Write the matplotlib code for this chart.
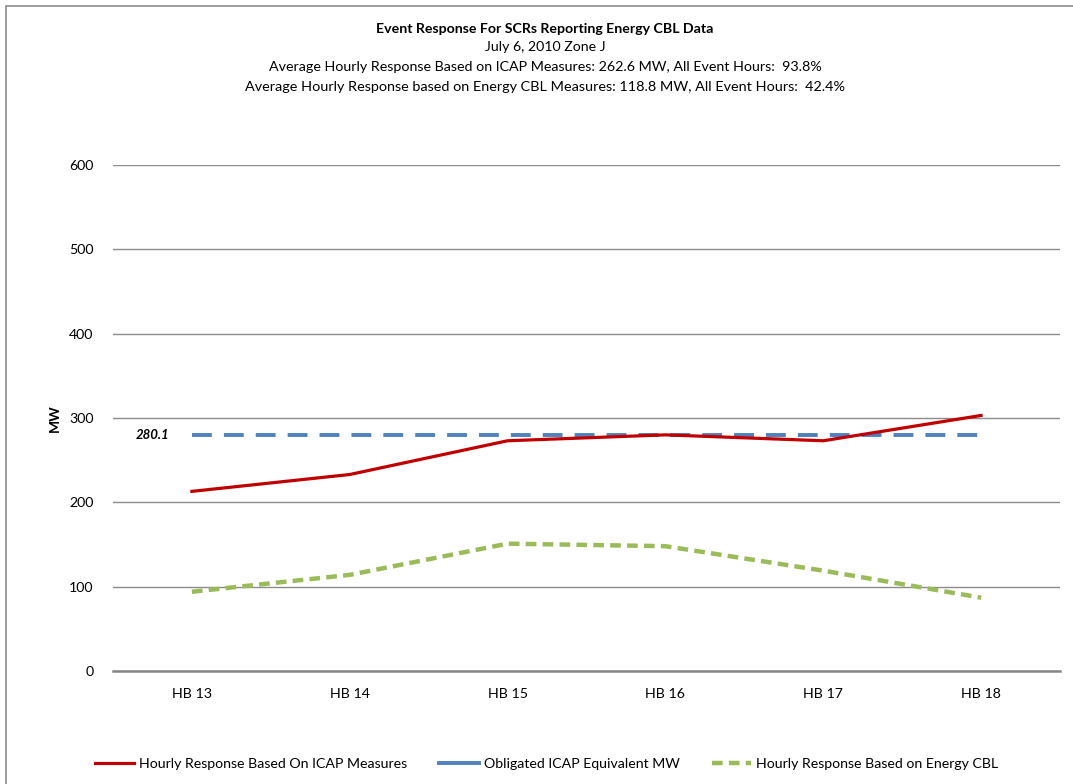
import matplotlib
matplotlib.use("Agg")
import matplotlib.pyplot as plt
from matplotlib.patches import Rectangle

plt.rcParams['font.family'] = ['Lato', 'DejaVu Sans']

categories = ["HB 13", "HB 14", "HB 15", "HB 16", "HB 17", "HB 18"]
icap_response = [213, 233, 273, 280, 273, 303]
obligated_mw = [280.1, 280.1, 280.1, 280.1, 280.1, 280.1]
cbl_response = [94, 114, 151, 148, 119, 87]
y_ticks = [0, 100, 200, 300, 400, 500, 600]

title_lines = [
    "Event Response For SCRs Reporting Energy CBL Data",
    "July 6, 2010 Zone J",
    "Average Hourly Response Based on ICAP Measures: 262.6 MW, All Event Hours:  93.8%",
    "Average Hourly Response based on Energy CBL Measures: 118.8 MW, All Event Hours:  42.4%",
]

W, H = 1073, 784
fig = plt.figure(figsize=(W / 100, H / 100), dpi=100)
fig.patch.set_facecolor("white")

# outer chart border
fig.add_artist(Rectangle((6 / W, -0.02), 1.1, 1 - 6 / H + 0.02,
                         transform=fig.transFigure, fill=False,
                         edgecolor="#8c8c8c", linewidth=1.2))

ax = fig.add_axes([113 / W, 1 - 671 / H, 947 / W, (671 - 165) / H])
x = list(range(len(categories)))

ax.plot(x, icap_response, color="#c00000", linewidth=2.3,
        label="Hourly Response Based On ICAP Measures", zorder=4)
ax.plot(x, obligated_mw, color="#4f81bd", linewidth=2.8,
        dashes=(5.1, 3.1), label="Obligated ICAP Equivalent MW", zorder=3)
ax.plot(x, cbl_response, color="#9bbb59", linewidth=3.2,
        dashes=(2.4, 1.4), label="Hourly Response Based on Energy CBL", zorder=3)

ax.annotate(f"{obligated_mw[0]:.1f}", xy=(x[0], obligated_mw[0]),
            xytext=(-16, 0), textcoords="offset points",
            ha="right", va="center", fontsize=9.5, fontweight="bold",
            fontstyle="italic", color="black")

ax.set_xlim(-0.5, len(categories) - 0.5)
ax.set_ylim(0, 600)
ax.set_yticks(y_ticks)
ax.set_xticks(x)
ax.set_xticklabels(categories)
ax.tick_params(axis="both", length=0, labelsize=10.2, colors="black")
ax.tick_params(axis="y", pad=14)
ax.tick_params(axis="x", pad=12)
ax.yaxis.grid(True, color="#8c8c8c", linewidth=1.0)
ax.set_axisbelow(True)
for side in ["left", "right", "top"]:
    ax.spines[side].set_visible(False)
ax.spines["bottom"].set_color("#868686")
ax.spines["bottom"].set_linewidth(1.8)

ax.set_ylabel("MW", fontsize=10, fontweight="bold", labelpad=6)

ty = [29, 47, 67, 87]
sizes = [10.2, 10.2, 10.3, 10.4]
for i, (txt, yy) in enumerate(zip(title_lines, ty)):
    fig.text(545 / W, 1 - yy / H, txt, ha="center", va="center",
             fontsize=sizes[i], fontweight="bold" if i == 0 else "normal")

leg = fig.legend(loc="center left", bbox_to_anchor=(82 / W, 1 - 764 / H),
                 ncol=3, frameon=False, fontsize=10.2, handlelength=2.8,
                 handletextpad=0.35, columnspacing=2.25)
# the obligated-MW key shows a single solid dash
leg.get_lines()[1].set_linestyle("-")

fig.savefig("out.png", dpi=100)
